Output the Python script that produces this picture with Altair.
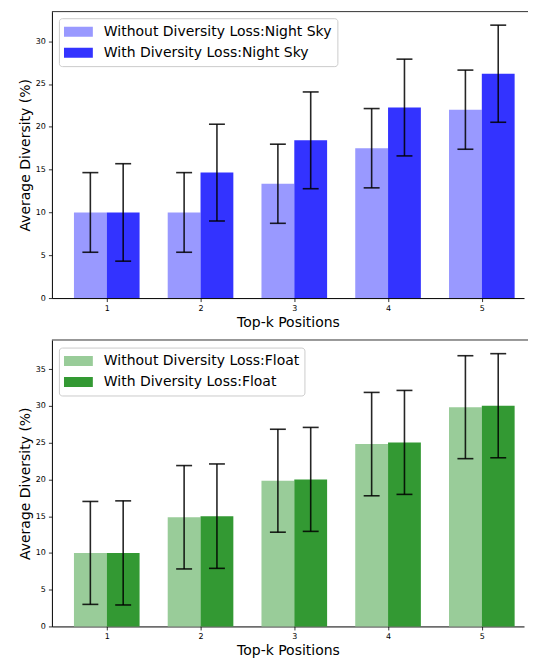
import altair as alt
import pandas as pd

# ---- data ----
positions = [1, 2, 3, 4, 5]

top_names = ["Without Diversity Loss:Night Sky", "With Diversity Loss:Night Sky"]
top_without = [10.0, 10.0, 13.35, 17.5, 22.0]
top_without_err = [4.65, 4.65, 4.62, 4.63, 4.62]
top_with = [10.0, 14.65, 18.42, 22.25, 26.2]
top_with_err = [5.69, 5.65, 5.65, 5.65, 5.67]
top_yticks = [0, 5, 10, 15, 20, 25, 30]
top_ymax = 33.45

bot_names = ["Without Diversity Loss:Float", "With Diversity Loss:Float"]
bot_without = [10.0, 14.85, 19.82, 24.8, 29.82]
bot_without_err = [7.0, 7.03, 7.0, 7.03, 7.0]
bot_with = [10.0, 15.0, 20.0, 25.03, 30.02]
bot_with_err = [7.08, 7.1, 7.07, 7.07, 7.08]
bot_yticks = [0, 5, 10, 15, 20, 25, 30, 35]
bot_ymax = 38.96

top_colors = ["#9999ff", "#3333ff"]
bot_colors = ["#99cc99", "#339933"]

BAR_W = 0.35
CAP = 0.085
W = 473
H = 287
FONT = "DejaVu Sans"
X_TITLE = "Top-k Positions"
Y_TITLE = "Average Diversity (%)"


def make_df(names, without, without_err, with_, with_err):
    rows = []
    for i, p in enumerate(positions):
        for k, (vals, errs) in enumerate([(without, without_err), (with_, with_err)]):
            x0 = p - BAR_W + k * BAR_W
            x1 = x0 + BAR_W
            xc = (x0 + x1) / 2
            rows.append(dict(series=names[k], x0=x0, x1=x1, xc=xc,
                             cl=xc - CAP, cr=xc + CAP, v=vals[i], base=0.0,
                             lo=vals[i] - errs[i], hi=vals[i] + errs[i]))
    return pd.DataFrame(rows)


def panel(df, names, colors, ymax, yticks, legend_y):
    xs = alt.Scale(domain=[0.415, 5.45], nice=False, zero=False)
    ys = alt.Scale(domain=[0, ymax], nice=False)
    xax = alt.Axis(values=positions, format="d", title=X_TITLE)
    yax = alt.Axis(values=yticks, format="d", title=Y_TITLE)
    base = alt.Chart(df)
    bars = base.mark_bar(strokeWidth=0).encode(
        x=alt.X("x0:Q", scale=xs, axis=xax),
        x2="x1:Q",
        y=alt.Y("v:Q", scale=ys, axis=yax),
        y2="base:Q",
        color=alt.Color("series:N", scale=alt.Scale(domain=names, range=colors),
                        legend=alt.Legend(title=None, orient="none",
                                          legendX=7, legendY=legend_y)),
    )
    rule_style = dict(color="black", strokeWidth=1.6, opacity=0.85)
    err = base.mark_rule(**rule_style).encode(
        x=alt.X("xc:Q", scale=xs, axis=xax),
        y=alt.Y("lo:Q", scale=ys, axis=yax),
        y2="hi:Q",
    )
    cap_hi = base.mark_rule(**rule_style).encode(
        x=alt.X("cl:Q", scale=xs, axis=xax), x2="cr:Q",
        y=alt.Y("hi:Q", scale=ys, axis=yax),
    )
    cap_lo = base.mark_rule(**rule_style).encode(
        x=alt.X("cl:Q", scale=xs, axis=xax), x2="cr:Q",
        y=alt.Y("lo:Q", scale=ys, axis=yax),
    )
    top_spine = alt.Chart(pd.DataFrame({"a": [0]})).mark_rule(
        color="#333333", strokeWidth=1).encode(
        x=alt.value(0), x2=alt.value(W + 4), y=alt.value(0))
    return alt.layer(bars, err, cap_hi, cap_lo, top_spine).properties(width=W, height=H)


top = panel(make_df(top_names, top_without, top_without_err, top_with, top_with_err),
            top_names, top_colors, top_ymax, top_yticks, 6.6)
bottom = panel(make_df(bot_names, bot_without, bot_without_err, bot_with, bot_with_err),
               bot_names, bot_colors, bot_ymax, bot_yticks, 7.6)

chart = alt.vconcat(top, bottom, spacing=9).resolve_scale(
    color="independent", x="independent", y="independent"
).resolve_legend(color="independent").properties(
    padding={"left": 10, "top": 2, "right": 0, "bottom": 0}
).configure_view(stroke=None).configure_axis(
    grid=False,
    labelFont=FONT, labelFontSize=8, labelColor="black", labelPadding=3,
    titleFont=FONT, titleFontSize=14, titleFontWeight="normal", titleColor="black",
    titlePadding=3,
    tickSize=3.5, tickColor="black", tickWidth=0.8,
    domainColor="black", domainWidth=1,
).configure_legend(
    labelFont=FONT, labelFontSize=14, labelColor="black", labelLimit=400,
    symbolType="M-1,-0.345H1V0.345H-1Z", symbolSize=841, symbolStrokeWidth=0,
    symbolOpacity=1,
    labelOffset=11, clipHeight=17, rowPadding=4, padding=5,
    strokeColor="#cccccc", fillColor="rgba(255,255,255,0.8)", cornerRadius=3,
)

chart.save("out.html", embed_options={"renderer": "svg", "actions": False})
